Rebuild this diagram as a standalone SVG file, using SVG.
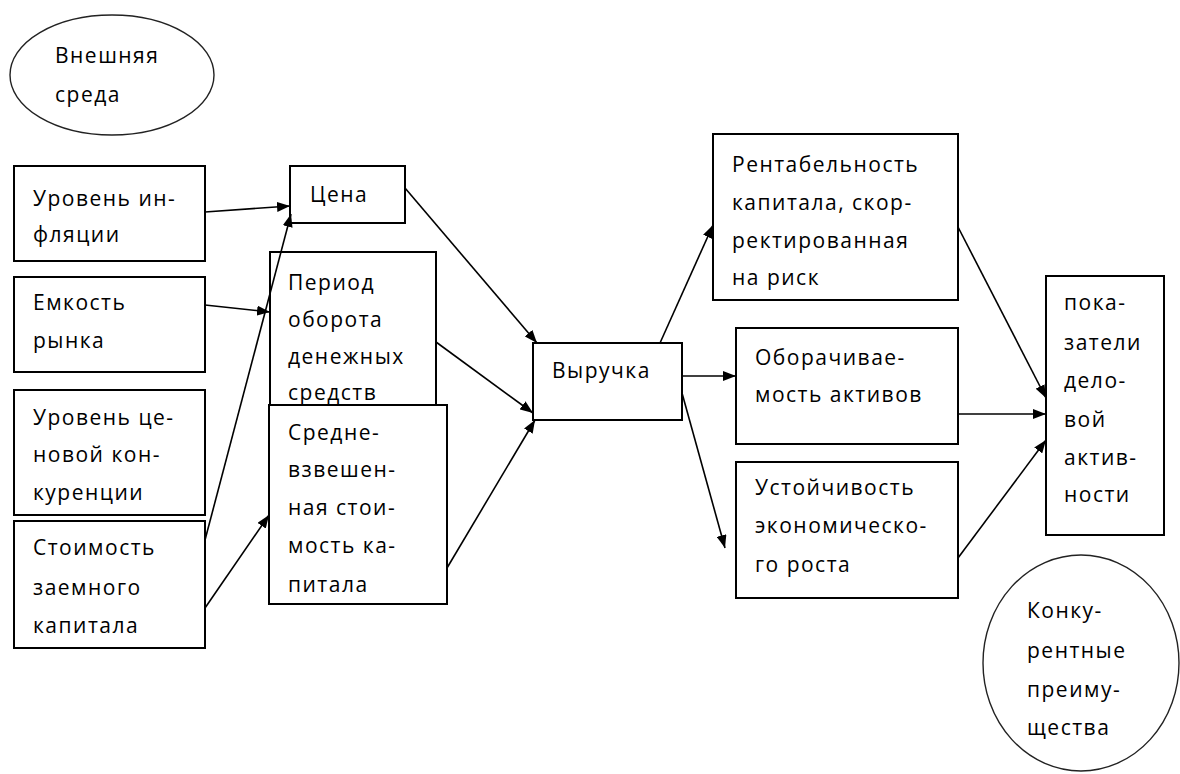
<svg xmlns="http://www.w3.org/2000/svg" width="1180" height="774" viewBox="0 0 1180 774">
<style>
.b{fill:#fff;stroke:#000;stroke-width:2}
.e{fill:#fff;stroke:#222;stroke-width:1.4}
.t{font-family:"Open Sans","Noto Sans","DejaVu Sans",sans-serif;font-size:21px;letter-spacing:1.5px;fill:#000}
.c line{stroke:#000;stroke-width:1.6;marker-end:url(#ah)}
</style>
<defs>
<marker id="ah" viewBox="0 0 13 10" refX="13" refY="5" markerWidth="13" markerHeight="10" markerUnits="userSpaceOnUse" orient="auto">
<path d="M0,0 L13,5 L0,10 Z" fill="#000"/>
</marker>
</defs>
<rect width="1180" height="774" fill="#fff"/>
<g id="n_env"><ellipse class="e" cx="112" cy="75" rx="102" ry="60"/><text class="t" x="55" y="63">Внешняя</text><text class="t" x="55" y="102">среда</text></g>
<g id="n_infl"><rect class="b" x="14" y="166" width="191" height="95"/><text class="t" x="33" y="206">Уровень ин-</text><text class="t" x="33" y="242">фляции</text></g>
<g id="n_market"><rect class="b" x="14" y="277" width="191" height="95"/><text class="t" x="33" y="310">Емкость</text><text class="t" x="33" y="348">рынка</text></g>
<g id="n_comp"><rect class="b" x="14" y="390" width="191" height="125"/><text class="t" x="33" y="425">Уровень це-</text><text class="t" x="33" y="462">новой кон-</text><text class="t" x="33" y="500">куренции</text></g>
<g id="n_debt"><rect class="b" x="14" y="521" width="191" height="127"/><text class="t" x="33" y="555">Стоимость</text><text class="t" x="33" y="595">заемного</text><text class="t" x="33" y="633">капитала</text></g>
<g id="n_price"><rect class="b" x="290" y="166" width="115" height="57"/><text class="t" x="310" y="202">Цена</text></g>
<g id="n_period"><rect class="b" x="270" y="252" width="166" height="153"/><text class="t" x="288" y="290">Период</text><text class="t" x="288" y="327">оборота</text><text class="t" x="288" y="364">денежных</text><text class="t" x="288" y="400">средств</text></g>
<g id="n_wacc"><rect class="b" x="269" y="405" width="178" height="199"/><text class="t" x="288" y="440">Средне-</text><text class="t" x="288" y="477">взвешен-</text><text class="t" x="288" y="515">ная стои-</text><text class="t" x="288" y="553">мость ка-</text><text class="t" x="288" y="592">питала</text></g>
<g id="n_rev"><rect class="b" x="533" y="343" width="149" height="77"/><text class="t" x="552" y="378">Выручка</text></g>
<g id="n_roe"><rect class="b" x="713" y="134" width="245" height="166"/><text class="t" x="732" y="172">Рентабельность</text><text class="t" x="732" y="210">капитала, скор-</text><text class="t" x="732" y="248">ректированная</text><text class="t" x="732" y="285">на риск</text></g>
<g id="n_turn"><rect class="b" x="736" y="328" width="222" height="116"/><text class="t" x="755" y="365">Оборачивае-</text><text class="t" x="755" y="402">мость активов</text></g>
<g id="n_growth"><rect class="b" x="736" y="462" width="222" height="136"/><text class="t" x="755" y="495">Устойчивость</text><text class="t" x="755" y="533">экономическо-</text><text class="t" x="755" y="572">го роста</text></g>
<g id="n_kpi"><rect class="b" x="1046" y="276" width="118" height="259"/><text class="t" x="1064" y="310">пока-</text><text class="t" x="1064" y="350">затели</text><text class="t" x="1064" y="388">дело-</text><text class="t" x="1064" y="427">вой</text><text class="t" x="1064" y="465">актив-</text><text class="t" x="1064" y="502">ности</text></g>
<g id="n_adv"><ellipse class="e" cx="1081" cy="663" rx="98" ry="108"/><text class="t" x="1027" y="618">Конку-</text><text class="t" x="1027" y="658">рентные</text><text class="t" x="1027" y="697">преиму-</text><text class="t" x="1027" y="735">щества</text></g>
<g id="connectors" class="c">
<line x1="205" y1="212" x2="290" y2="206"/>
<line x1="205" y1="305" x2="270" y2="312"/>
<line x1="205" y1="540" x2="291" y2="214"/>
<line x1="205" y1="608" x2="269" y2="515"/>
<line x1="405" y1="188" x2="537" y2="343"/>
<line x1="436" y1="342" x2="533" y2="413"/>
<line x1="447" y1="568" x2="535" y2="420"/>
<line x1="660" y1="343" x2="713" y2="225"/>
<line x1="682" y1="376" x2="736" y2="376"/>
<line x1="682" y1="393" x2="725" y2="548"/>
<line x1="958" y1="227" x2="1046" y2="398"/>
<line x1="958" y1="414" x2="1046" y2="414"/>
<line x1="958" y1="558" x2="1046" y2="440"/>
</g>
</svg>
